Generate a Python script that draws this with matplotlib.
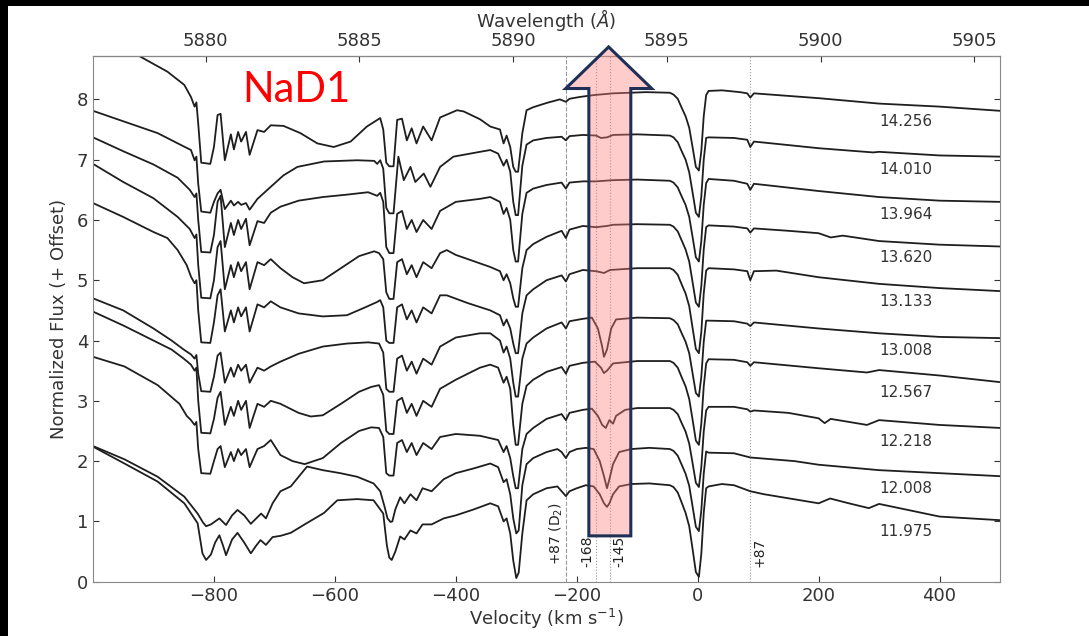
import numpy as np
import matplotlib
matplotlib.use('Agg')
from matplotlib import pyplot as plt
from matplotlib.patches import Polygon, Rectangle

# epoch labels (top to bottom)
labels = ['14.256', '14.010', '13.964', '13.620', '13.133',
          '13.008', '12.567', '12.218', '12.008', '11.975']
label_y = [7.64, 6.84, 6.09, 5.38, 4.64, 3.84, 3.13, 2.33, 1.54, 0.84]

# spectra: velocity (km/s) and offset flux
v1 = [-1000, -960, -922, -877, -849, -838, -832, -829, -826, -821, -806, -800, -794, -789, -782, -772, -767, -760, -755, -747, -741, -728, -717, -706, -685, -657, -629, -602, -574, -547, -525, -520, -515, -510, -503, -497, -489, -481, -473, -465, -454, -440, -426, -398, -387, -360, -343, -327, -321, -316, -310, -305, -301, -297, -290, -283, -272, -250, -228, -218, -212, -195, -173, -140, -85, -46, -40, -33, -26, -20, -14, -8, -3, 2, 6, 10, 14, 18, 40, 70, 82, 87, 93, 120, 200, 300, 400, 500]
f1 = [9.3, 9.0, 8.71, 8.46, 8.24, 8.04, 7.88, 7.95, 7.60, 6.95, 6.93, 7.21, 7.74, 7.76, 6.99, 7.42, 7.17, 7.46, 7.30, 7.46, 7.08, 7.49, 7.46, 7.57, 7.56, 7.44, 7.27, 7.21, 7.30, 7.55, 7.69, 7.50, 6.95, 6.89, 6.89, 7.66, 7.68, 7.32, 7.52, 7.27, 7.55, 7.32, 7.70, 7.82, 7.80, 7.67, 7.55, 7.50, 7.27, 7.40, 7.21, 6.88, 6.80, 6.80, 7.44, 7.82, 7.87, 7.94, 8.00, 7.96, 8.01, 8.04, 8.07, 8.10, 8.12, 8.11, 8.08, 8.01, 7.85, 7.72, 7.53, 7.18, 6.88, 6.82, 7.14, 7.72, 8.07, 8.14, 8.15, 8.12, 8.10, 8.03, 8.10, 8.08, 8.02, 7.93, 7.88, 7.81]

v2 = [-1000, -948, -893, -850, -838, -832, -829, -826, -821, -806, -800, -794, -789, -782, -772, -767, -760, -755, -747, -741, -728, -717, -706, -685, -662, -618, -563, -535, -530, -525, -520, -515, -510, -503, -495, -486, -475, -467, -453, -442, -426, -404, -360, -343, -330, -321, -316, -310, -305, -301, -297, -290, -283, -272, -250, -225, -218, -212, -190, -168, -160, -150, -140, -100, -46, -40, -33, -26, -20, -14, -8, -3, 2, 6, 10, 14, 18, 60, 82, 87, 93, 113, 200, 290, 300, 400, 500]
f2 = [7.81, 7.63, 7.44, 7.22, 7.16, 6.99, 7.05, 6.60, 6.14, 6.12, 6.30, 6.44, 6.50, 6.18, 6.32, 6.24, 6.30, 6.25, 6.28, 6.17, 6.35, 6.45, 6.55, 6.74, 6.88, 6.97, 6.99, 6.98, 6.93, 6.99, 6.85, 6.20, 6.11, 6.11, 7.05, 6.66, 6.88, 6.63, 6.77, 6.55, 6.88, 7.05, 7.13, 7.16, 7.10, 6.90, 7.00, 6.80, 6.30, 6.08, 6.08, 6.90, 7.25, 7.32, 7.36, 7.38, 7.32, 7.39, 7.41, 7.40, 7.36, 7.37, 7.41, 7.42, 7.40, 7.37, 7.29, 7.13, 7.00, 6.79, 6.43, 6.12, 6.05, 6.39, 7.00, 7.36, 7.37, 7.36, 7.33, 7.21, 7.30, 7.28, 7.19, 7.12, 7.13, 7.07, 7.05]

v3 = [-1000, -950, -900, -860, -840, -832, -829, -826, -821, -806, -800, -794, -789, -782, -772, -767, -760, -755, -747, -741, -728, -717, -706, -690, -660, -620, -580, -545, -530, -525, -520, -515, -510, -503, -497, -489, -481, -473, -465, -454, -440, -426, -400, -360, -343, -327, -321, -316, -310, -305, -301, -297, -290, -283, -272, -250, -225, -218, -212, -190, -168, -140, -100, -46, -40, -33, -26, -20, -14, -8, -3, 2, 6, 10, 14, 18, 60, 82, 87, 93, 120, 200, 300, 400, 500]
f3 = [7.37, 7.14, 6.92, 6.70, 6.50, 6.38, 6.44, 6.00, 5.47, 5.46, 5.75, 6.30, 6.40, 5.55, 5.95, 5.75, 6.00, 5.85, 6.02, 5.58, 5.98, 5.95, 6.12, 6.22, 6.32, 6.38, 6.42, 6.46, 6.40, 6.45, 6.30, 5.55, 5.45, 5.45, 6.10, 6.15, 5.85, 6.00, 5.80, 6.00, 5.85, 6.15, 6.30, 6.35, 6.38, 6.30, 6.10, 6.20, 6.00, 5.50, 5.31, 5.31, 6.10, 6.45, 6.52, 6.58, 6.62, 6.52, 6.62, 6.64, 6.64, 6.66, 6.67, 6.65, 6.62, 6.54, 6.38, 6.25, 6.05, 5.69, 5.38, 5.31, 5.65, 6.25, 6.61, 6.68, 6.65, 6.60, 6.50, 6.60, 6.57, 6.48, 6.38, 6.32, 6.30]

v4 = [-1000, -950, -900, -860, -840, -832, -829, -826, -821, -806, -800, -794, -789, -782, -772, -767, -760, -755, -747, -741, -728, -717, -706, -690, -670, -651, -620, -590, -560, -535, -527, -520, -515, -510, -503, -497, -489, -481, -473, -465, -454, -440, -426, -415, -400, -380, -343, -327, -321, -316, -310, -305, -301, -297, -290, -283, -272, -250, -225, -218, -212, -190, -168, -150, -140, -100, -46, -40, -33, -26, -20, -14, -8, -3, 2, 6, 10, 14, 18, 60, 82, 87, 93, 150, 200, 220, 240, 300, 400, 500]
f4 = [6.93, 6.63, 6.36, 6.05, 5.85, 5.70, 5.76, 5.25, 4.71, 4.70, 5.00, 5.55, 5.65, 4.85, 5.25, 5.05, 5.30, 5.15, 5.30, 4.85, 5.30, 5.25, 5.35, 5.20, 5.05, 4.95, 5.00, 5.20, 5.40, 5.48, 5.45, 5.35, 4.80, 4.69, 4.69, 5.30, 5.35, 5.10, 5.25, 5.05, 5.30, 5.20, 5.45, 5.50, 5.42, 5.35, 5.22, 5.15, 5.00, 5.10, 4.95, 4.70, 4.56, 4.56, 5.20, 5.50, 5.60, 5.72, 5.82, 5.70, 5.84, 5.90, 5.88, 5.90, 5.92, 5.93, 5.92, 5.89, 5.81, 5.65, 5.51, 5.31, 4.94, 4.63, 4.56, 4.90, 5.51, 5.88, 5.91, 5.89, 5.86, 5.79, 5.86, 5.82, 5.78, 5.71, 5.74, 5.65, 5.59, 5.56]

v5 = [-1000, -950, -900, -877, -860, -845, -838, -832, -829, -826, -821, -806, -800, -794, -789, -782, -772, -767, -760, -755, -747, -741, -728, -717, -706, -690, -660, -620, -580, -550, -530, -525, -520, -515, -510, -503, -497, -489, -481, -473, -465, -454, -440, -426, -415, -380, -343, -327, -321, -316, -310, -305, -301, -297, -290, -283, -272, -250, -225, -218, -212, -190, -168, -155, -145, -100, -46, -40, -33, -26, -20, -14, -8, -3, 2, 6, 10, 14, 18, 60, 82, 87, 93, 130, 200, 300, 400, 500]
f5 = [6.28, 6.05, 5.80, 5.70, 5.50, 5.25, 5.06, 4.95, 5.00, 4.50, 3.97, 3.96, 4.30, 4.75, 4.85, 4.15, 4.50, 4.30, 4.55, 4.40, 4.55, 4.15, 4.60, 4.55, 4.65, 4.55, 4.45, 4.40, 4.42, 4.55, 4.64, 4.67, 4.55, 4.00, 3.96, 3.96, 4.55, 4.60, 4.35, 4.50, 4.30, 4.55, 4.45, 4.75, 4.75, 4.62, 4.50, 4.42, 4.25, 4.35, 4.20, 3.95, 3.79, 3.79, 4.45, 4.75, 4.85, 5.00, 5.08, 4.98, 5.10, 5.17, 5.15, 5.12, 5.17, 5.20, 5.20, 5.17, 5.09, 4.92, 4.78, 4.57, 4.18, 3.86, 3.79, 4.14, 4.78, 5.16, 5.20, 5.18, 5.15, 5.00, 5.15, 5.16, 5.05, 4.94, 4.87, 4.82]

v6 = [-1000, -950, -900, -870, -850, -838, -832, -829, -826, -821, -806, -800, -794, -789, -782, -772, -767, -760, -755, -747, -741, -728, -717, -706, -690, -660, -620, -580, -545, -527, -520, -515, -510, -503, -497, -489, -481, -473, -465, -454, -440, -426, -400, -360, -343, -327, -321, -316, -310, -305, -301, -297, -290, -283, -272, -250, -225, -218, -212, -190, -175, -165, -158, -155, -150, -143, -135, -100, -46, -40, -33, -26, -20, -14, -8, -3, 2, 6, 10, 14, 18, 60, 82, 87, 93, 200, 300, 400, 500]
f6 = [4.70, 4.50, 4.20, 4.00, 3.85, 3.77, 3.70, 3.76, 3.45, 3.16, 3.15, 3.40, 3.75, 3.80, 3.30, 3.55, 3.40, 3.60, 3.50, 3.60, 3.30, 3.55, 3.50, 3.57, 3.65, 3.78, 3.90, 3.95, 3.97, 3.95, 3.80, 3.20, 3.15, 3.15, 3.70, 3.75, 3.50, 3.65, 3.45, 3.70, 3.60, 3.90, 4.05, 4.12, 4.12, 4.00, 3.80, 3.90, 3.70, 3.30, 3.07, 3.07, 3.70, 3.95, 4.05, 4.20, 4.30, 4.20, 4.32, 4.36, 4.38, 4.20, 3.90, 3.73, 3.85, 4.20, 4.35, 4.38, 4.37, 4.34, 4.27, 4.11, 3.98, 3.79, 3.43, 3.13, 3.07, 3.40, 3.98, 4.33, 4.33, 4.32, 4.28, 4.24, 4.30, 4.20, 4.12, 4.06, 4.04]

v7 = [-1000, -950, -900, -870, -850, -838, -832, -829, -826, -821, -806, -800, -794, -789, -782, -772, -767, -760, -755, -747, -741, -728, -717, -706, -690, -660, -640, -620, -590, -560, -540, -527, -520, -515, -510, -503, -497, -489, -481, -473, -465, -454, -440, -426, -400, -360, -343, -330, -321, -316, -310, -305, -301, -297, -290, -283, -272, -250, -225, -218, -212, -190, -170, -160, -155, -150, -140, -100, -46, -40, -33, -26, -20, -14, -8, -3, 2, 6, 10, 14, 18, 60, 82, 87, 93, 200, 280, 300, 400, 500]
f7 = [4.48, 4.25, 4.00, 3.85, 3.70, 3.60, 3.50, 3.55, 3.00, 2.47, 2.46, 2.70, 3.05, 3.15, 2.60, 2.90, 2.75, 3.00, 2.85, 3.00, 2.55, 2.95, 2.90, 3.00, 2.95, 2.80, 2.74, 2.76, 2.95, 3.15, 3.23, 3.26, 3.10, 2.50, 2.45, 2.45, 3.00, 3.05, 2.80, 2.95, 2.75, 3.00, 2.90, 3.20, 3.35, 3.55, 3.60, 3.55, 3.30, 3.40, 3.20, 2.60, 2.27, 2.27, 2.95, 3.25, 3.35, 3.48, 3.56, 3.45, 3.58, 3.63, 3.65, 3.55, 3.46, 3.50, 3.62, 3.66, 3.66, 3.63, 3.55, 3.38, 3.24, 3.03, 2.66, 2.34, 2.27, 2.62, 3.24, 3.62, 3.69, 3.68, 3.64, 3.58, 3.64, 3.54, 3.47, 3.51, 3.42, 3.31]

v8 = [-1000, -948, -893, -857, -845, -838, -832, -829, -826, -821, -806, -800, -794, -789, -782, -772, -767, -760, -755, -747, -741, -728, -717, -706, -690, -670, -650, -620, -590, -560, -540, -527, -520, -515, -510, -503, -497, -489, -481, -473, -465, -454, -440, -426, -400, -360, -343, -330, -321, -316, -310, -305, -301, -297, -290, -283, -272, -250, -225, -218, -212, -190, -175, -165, -158, -152, -146, -140, -135, -120, -100, -46, -40, -33, -26, -20, -14, -8, -3, 2, 6, 10, 14, 18, 60, 82, 87, 93, 150, 200, 210, 220, 280, 300, 400, 500]
f8 = [3.73, 3.57, 3.26, 2.95, 2.75, 2.68, 2.60, 2.65, 2.20, 1.80, 1.79, 2.00, 2.20, 2.25, 1.90, 2.15, 2.00, 2.20, 2.10, 2.20, 1.90, 2.20, 2.25, 2.35, 2.10, 2.00, 1.95, 2.05, 2.30, 2.50, 2.56, 2.55, 2.40, 1.80, 1.76, 1.76, 2.30, 2.35, 2.15, 2.30, 2.10, 2.30, 2.20, 2.40, 2.45, 2.42, 2.38, 2.35, 2.15, 2.25, 2.05, 1.75, 1.55, 1.55, 2.20, 2.45, 2.55, 2.70, 2.78, 2.68, 2.80, 2.85, 2.87, 2.75, 2.60, 2.55, 2.68, 2.62, 2.75, 2.85, 2.88, 2.88, 2.85, 2.78, 2.62, 2.49, 2.29, 1.94, 1.64, 1.57, 1.90, 2.49, 2.84, 2.90, 2.90, 2.86, 2.82, 2.84, 2.80, 2.71, 2.63, 2.70, 2.60, 2.68, 2.60, 2.55]

v9 = [-1000, -948, -893, -849, -827, -818, -813, -805, -798, -791, -780, -770, -761, -750, -739, -730, -722, -714, -703, -690, -673, -646, -620, -591, -563, -536, -525, -518, -513, -508, -505, -500, -492, -485, -475, -465, -455, -440, -420, -400, -370, -343, -330, -321, -316, -310, -305, -300, -296, -290, -283, -272, -250, -232, -225, -218, -212, -200, -185, -172, -162, -155, -150, -146, -140, -130, -110, -80, -46, -40, -33, -26, -20, -14, -8, -3, 2, 6, 10, 14, 18, 60, 87, 160, 200, 300, 400, 500]
f9 = [2.25, 2.03, 1.74, 1.41, 1.13, 0.98, 0.92, 0.95, 1.00, 1.05, 0.94, 1.10, 1.19, 1.10, 0.96, 1.05, 1.13, 1.05, 1.30, 1.50, 1.58, 1.91, 1.85, 1.80, 1.74, 1.63, 1.50, 1.25, 1.05, 0.99, 1.00, 1.20, 1.40, 1.30, 1.45, 1.35, 1.55, 1.50, 1.70, 1.80, 1.88, 1.96, 1.90, 1.65, 1.70, 1.45, 1.05, 0.80, 0.85, 1.60, 1.95, 2.05, 2.15, 2.20, 2.15, 2.05, 2.15, 2.20, 2.22, 2.20, 2.00, 1.75, 1.55, 1.70, 1.95, 2.15, 2.20, 2.22, 2.20, 2.17, 2.09, 1.93, 1.79, 1.59, 1.22, 0.91, 0.84, 1.18, 1.79, 2.16, 2.14, 2.13, 2.06, 2.00, 1.94, 1.85, 1.80, 1.75]

v10 = [-1000, -948, -893, -849, -827, -819, -813, -805, -798, -791, -785, -780, -770, -761, -750, -739, -730, -723, -714, -703, -690, -673, -650, -618, -596, -563, -536, -520, -514, -510, -506, -500, -492, -485, -475, -465, -455, -440, -420, -400, -370, -343, -330, -321, -316, -310, -305, -300, -296, -290, -283, -272, -250, -232, -225, -218, -212, -200, -185, -172, -162, -155, -150, -146, -140, -130, -110, -80, -46, -40, -33, -26, -20, -14, -8, -3, 2, 6, 10, 14, 18, 40, 60, 87, 110, 200, 219, 250, 283, 300, 400, 500]
f10 = [2.24, 1.96, 1.66, 1.30, 0.97, 0.47, 0.36, 0.45, 0.65, 0.77, 0.60, 0.44, 0.70, 0.81, 0.65, 0.47, 0.60, 0.69, 0.61, 0.74, 0.76, 0.81, 0.95, 1.14, 1.35, 1.37, 1.35, 1.13, 0.60, 0.40, 0.36, 0.50, 0.75, 0.70, 0.85, 0.80, 0.95, 0.95, 1.05, 1.10, 1.20, 1.30, 1.25, 1.00, 1.05, 0.80, 0.35, 0.06, 0.15, 0.80, 1.35, 1.45, 1.55, 1.58, 1.50, 1.42, 1.50, 1.55, 1.60, 1.58, 1.45, 1.30, 1.24, 1.30, 1.45, 1.58, 1.62, 1.63, 1.60, 1.57, 1.48, 1.30, 1.14, 0.92, 0.51, 0.16, 0.08, 0.46, 1.14, 1.55, 1.58, 1.62, 1.60, 1.50, 1.45, 1.30, 1.38, 1.30, 1.22, 1.29, 1.08, 1.02]

spectra = [(v1, f1), (v2, f2), (v3, f3), (v4, f4), (v5, f5),
           (v6, f6), (v7, f7), (v8, f8), (v9, f9), (v10, f10)]

# marked velocities
mark_v = [-218, -168, -145, 87]
mark_txt = ['+87 (D$_2$)', '-168', '-145', '+87']

lam0 = 5896.0
c_kms = 299792.458


def v2w(v):
    return lam0 * (1 + np.asarray(v) / c_kms)


def w2v(w):
    return (np.asarray(w) / lam0 - 1) * c_kms


fig = plt.figure(figsize=(10.89, 6.36), dpi=100)
ax = fig.add_axes([0.0854, 0.0854, 0.8329, 0.8266])

for v, f in spectra:
    ax.plot(v, f, color='#1e1e1e', lw=1.3)

for i, lab in enumerate(labels):
    ax.text(345, label_y[i], lab, fontsize=11, color='#333333',
            ha='center', va='center')

ax.axvline(mark_v[0], color='#999999', lw=0.8, ls='--', zorder=0)
for mv in mark_v[1:]:
    ax.axvline(mv, color='#999999', lw=0.8, ls=':', zorder=0)

ax.text(mark_v[0] - 15, 0.27, mark_txt[0], rotation=90, fontsize=10,
        ha='center', va='bottom', color='#222222')
ax.text(mark_v[1] - 15, 0.25, mark_txt[1], rotation=90, fontsize=10,
        ha='center', va='bottom', color='#222222')
ax.text(mark_v[2] + 15, 0.25, mark_txt[2], rotation=90, fontsize=10,
        ha='center', va='bottom', color='#222222')
ax.text(mark_v[3] + 15, 0.25, mark_txt[3], rotation=90, fontsize=10,
        ha='center', va='bottom', color='#222222')

ax.set_xlim(-1000, 500)
ax.set_ylim(0, 8.72)
ax.set_xticks([-800, -600, -400, -200, 0, 200, 400])
ax.set_yticks(range(9))
ax.set_xlabel('Velocity (km s$^{-1}$)', fontsize=13, color='#333333', labelpad=2)
ax.set_ylabel('Normalized Flux (+ Offset)', fontsize=13, color='#333333', labelpad=6)
ax.tick_params(direction='in', length=4, labelsize=13, colors='#333333',
               right=True, top=False)
for sp in ax.spines.values():
    sp.set_color('#888888')

sec = ax.secondary_xaxis('top', functions=(v2w, w2v))
sec.set_xticks([5880, 5885, 5890, 5895, 5900, 5905])
sec.tick_params(direction='in', length=4, labelsize=13, colors='#333333', pad=4)
sec.set_xlabel('Wavelength ($\\AA$)', fontsize=13, color='#333333', labelpad=4)

# red arrow over the -168/-145 region
arrow_pts = [(-180, 0.76), (-110.6, 0.76), (-110.6, 8.18), (-76, 8.18),
             (-147.3, 8.87), (-218.3, 8.18), (-180, 8.18)]
ax.add_patch(Polygon(arrow_pts, closed=True, facecolor='#ff8080', alpha=0.4,
                     edgecolor='none', clip_on=False, zorder=5))
ax.add_patch(Polygon(arrow_pts, closed=True, facecolor='none', edgecolor='#1f2f55',
                     lw=2.2, clip_on=False, zorder=6))

ax.text(-663, 7.96, 'NaD1', color='#ff0000', fontsize=30, family='Lato',
        ha='center', va='baseline')

# black screenshot border (top and left)
fig.patches.append(Rectangle((0, 1 - 5.5 / 636), 1, 5.5 / 636, transform=fig.transFigure,
                             facecolor='black', edgecolor='none', zorder=10))
fig.patches.append(Rectangle((0, 0), 8 / 1089, 1, transform=fig.transFigure,
                             facecolor='black', edgecolor='none', zorder=10))

fig.savefig('out.png', dpi=100)
